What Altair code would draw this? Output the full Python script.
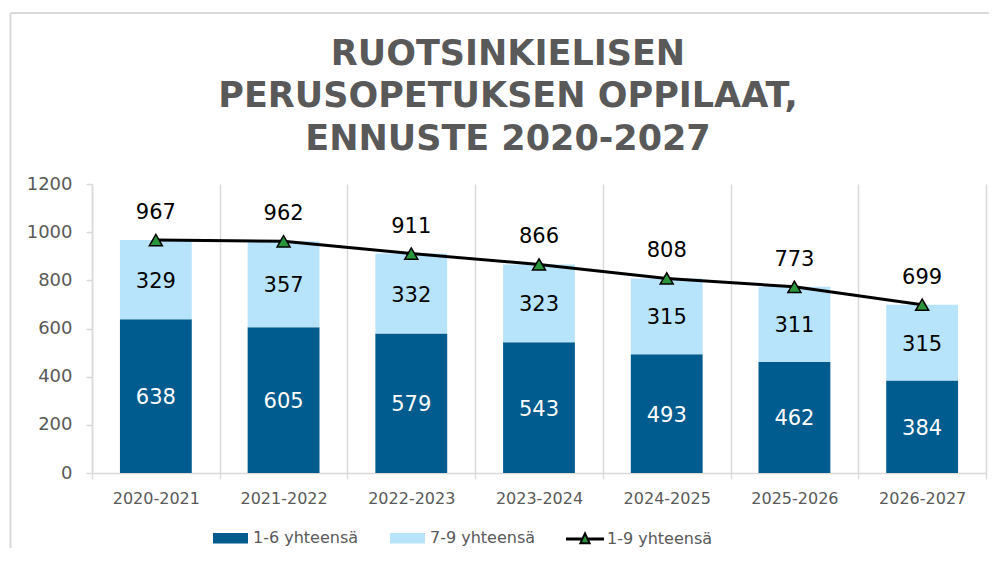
import altair as alt
import pandas as pd

# ---- data ----
years = ["2020-2021", "2021-2022", "2022-2023", "2023-2024", "2024-2025", "2025-2026", "2026-2027"]
grade_1_6 = [638, 605, 579, 543, 493, 462, 384]
grade_7_9 = [329, 357, 332, 323, 315, 311, 315]
total_1_9 = [967, 962, 911, 866, 808, 773, 699]
series_names = ["1-6 yhteensä", "7-9 yhteensä", "1-9 yhteensä"]
title_lines = ["RUOTSINKIELISEN", "PERUSOPETUKSEN OPPILAAT,", "ENNUSTE 2020-2027"]
y_ticks = [0, 200, 400, 600, 800, 1000, 1200]

bars_df = pd.DataFrame({
    "vuosi": years * 2,
    "sarja": [series_names[0]] * len(years) + [series_names[1]] * len(years),
    "arvo": grade_1_6 + grade_7_9,
    "jarj": [0] * len(years) + [1] * len(years),
})
total_df = pd.DataFrame({"vuosi": years, "sarja": series_names[2], "arvo": total_1_9})

FONT = "DejaVu Sans"
DARK = "#005b8e"
LIGHT = "#b8e4fb"
GREEN = "#2a963c"
GRID = "#d9d9d9"
TXT = "#595959"

x_enc = alt.X(
    "vuosi:N", sort=years, title=None,
    scale=alt.Scale(paddingInner=0, paddingOuter=0),
    axis=alt.Axis(labelAngle=0, grid=True, gridColor=GRID, gridWidth=1.5, tickBand="extent",
                  domainColor=GRID, domainWidth=1.5, tickColor=GRID, tickWidth=1.5, tickSize=6,
                  labelFont=FONT, labelFontSize=16, labelColor=TXT, labelPadding=11),
)
y_scale = alt.Scale(domain=[0, 1200], nice=False)
y_axis = alt.Axis(values=y_ticks, format="d", grid=False, domainColor=GRID, domainWidth=1.5,
                  tickColor=GRID, tickWidth=1.5, tickSize=6, labelPadding=14, labelFont=FONT,
                  labelFontSize=18, labelColor=TXT, title=None)

bars = alt.Chart(bars_df).mark_bar(width=alt.RelativeBandSize(0.5625)).encode(
    x=x_enc,
    y=alt.Y("arvo:Q", stack="zero", scale=y_scale, axis=y_axis),
    fill=alt.Fill("sarja:N", scale=alt.Scale(domain=series_names[:2], range=[DARK, LIGHT]),
                  legend=alt.Legend(title=None, orient="none", legendX=121, legendY=336.5,
                                    direction="horizontal", symbolType="M-1,-0.3H1V0.3H-1Z",
                                    symbolSize=1225, symbolStrokeWidth=0, labelFont=FONT,
                                    labelFontSize=16, labelColor=TXT, labelOffset=5,
                                    columnPadding=31, padding=0, labelLimit=300)),
    order=alt.Order("jarj:Q", sort="ascending"),
)

seg_labels = alt.Chart(bars_df).transform_stack(
    stack="arvo", groupby=["vuosi"], as_=["y0", "y1"],
    sort=[alt.SortField("jarj", order="ascending")],
).transform_calculate(
    mid="(datum.y0 + datum.y1) / 2",
    tc="datum.jarj == 0 ? 'white' : 'black'",
).mark_text(font=FONT, fontSize=21, baseline="middle", dy=2).encode(
    x=x_enc,
    y=alt.Y("mid:Q", scale=y_scale, axis=y_axis),
    text="arvo:Q",
    color=alt.Color("tc:N", scale=None),
)

line = alt.Chart(total_df).mark_line(color="black", strokeWidth=3).encode(
    x=x_enc, y=alt.Y("arvo:Q", scale=y_scale, axis=y_axis),
)

legend_path = ("M-1,-0.03H-0.14M0.14,-0.03H1M-1,0.03H-0.14M0.14,0.03H1"
               "M0,-0.3L0.24,0.22L-0.24,0.22Z")
points = alt.Chart(total_df).mark_point(
    shape="triangle-up", filled=True, size=170, stroke="black", strokeWidth=1.5, opacity=1,
).encode(
    x=x_enc, y=alt.Y("arvo:Q", scale=y_scale, axis=y_axis),
    fill=alt.Fill("sarja:N", scale=alt.Scale(domain=[series_names[2]], range=[GREEN]),
                  legend=alt.Legend(title=None, orient="none", legendX=473, legendY=335,
                                    direction="horizontal", symbolType=legend_path,
                                    symbolSize=1444, symbolStrokeColor="black",
                                    symbolStrokeWidth=2, labelFont=FONT, labelFontSize=16,
                                    labelColor=TXT, labelOffset=2, padding=0, labelLimit=300)),
)

tot_labels = alt.Chart(total_df).mark_text(
    font=FONT, fontSize=21, baseline="middle", dy=-27, color="black",
).encode(
    x=x_enc, y=alt.Y("arvo:Q", scale=y_scale, axis=y_axis), text="arvo:Q",
)

frame_top = alt.Chart(alt.Data(values=[{"k": 1}])).mark_rule(color=GRID, strokeWidth=2).encode(
    x=alt.value(-81.5), x2=alt.value(897), y=alt.value(-171),
)
frame_left = alt.Chart(alt.Data(values=[{"k": 1}])).mark_rule(color=GRID, strokeWidth=2).encode(
    x=alt.value(-81.5), y=alt.value(-171), y2=alt.value(376),
)

chart = alt.layer(frame_top, frame_left, bars, seg_labels, line, points, tot_labels).resolve_scale(
    fill="independent"
).resolve_legend(fill="independent").properties(
    width=894, height=289,
    autosize=alt.AutoSizeParams(type="none"),
    padding={"left": 84, "top": 176, "right": 3, "bottom": 75},
    title=alt.Title(text=title_lines, font=FONT, fontSize=35, fontWeight="bold", color=TXT,
                    anchor="middle", dx=-31, dy=175, lineHeight=42.7, offset=30),
    background="white",
).configure_view(strokeWidth=0)

chart.save("out.html", embed_options={"renderer": "svg", "actions": False})
